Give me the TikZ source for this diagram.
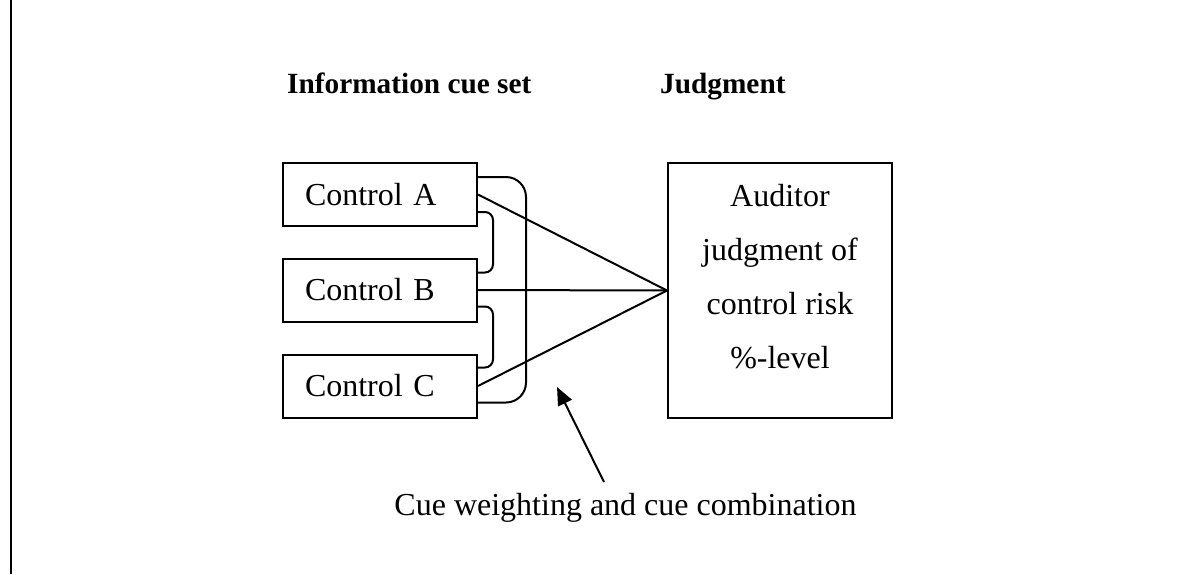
\documentclass[tikz,border=0pt]{standalone}
\usepackage{fontspec}
\setmainfont{Liberation Serif}
\usetikzlibrary{arrows.meta,calc}
\begin{document}
\begin{tikzpicture}[x=1pt,y=-1pt,
  line/.style={line width=2pt},
  cbox/.style={draw,line width=2pt,minimum width=194pt,minimum height=63pt,
    text width=150pt,align=left,inner xsep=22pt,inner ysep=0pt,
    font=\fontsize{32}{38}\selectfont},
  jbox/.style={draw,line width=2pt,minimum width=224pt,minimum height=255pt,inner sep=0pt},
  txt/.style={anchor=base,inner sep=0pt,font=\fontsize{32}{38}\selectfont},
  head/.style={anchor=base west,inner sep=0pt,font=\fontsize{29.3}{35}\selectfont\bfseries}
]
\useasboundingbox (0,0) rectangle (1189,574);
\draw[line width=2.4pt] (11,0) -- (11,574);

\node[head] (H1) at (287,93) {Information cue set};
\node[head] (H2) at (660,93) {Judgment};

\node[cbox] (A) at (380,194.5) {Control A};
\node[cbox] (B) at (380,290) {Control B};
\node[cbox] (C) at (380,386) {Control C};

\node[jbox] (J) at (780,290.5) {};
\node[txt] (J1) at (780,206) {Auditor};
\node[txt] (J2) at (780,260) {judgment of};
\node[txt] (J3) at (780,314) {control risk};
\node[txt] (J4) at (780,368) {\%-level};

\draw[line] (A.east) -- (J.west);
\draw[line] (B.east) -- (J.west);
\draw[line] (C.east) -- (J.west);

\draw[line,rounded corners=8pt] ([yshift=15pt]A.south east) -- ++(15,0) |- ([yshift=-15pt]B.north east);
\draw[line,rounded corners=8pt] ([yshift=16pt]B.south east) -- ++(15,0) |- ([yshift=-14pt]C.north east);
\draw[line,rounded corners=20pt] ([yshift=-15pt]A.north east) -- ++(48,0) |- ([yshift=16pt]C.south east);

\node[txt] (L) at (625.5,515) {Cue weighting and cue combination};
\coordinate (tail) at (604,482);
\coordinate (tip) at (557,387);
\draw[line,-{Triangle[length=18pt,width=15pt]}] (tail) -- (tip);
\end{tikzpicture}
\end{document}
